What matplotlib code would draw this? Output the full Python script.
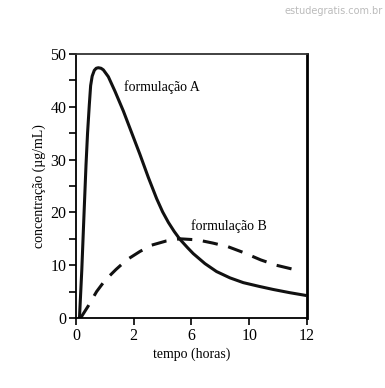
import matplotlib.pyplot as plt

# curves (x in axis units 0..12)
t_a = [0.18, 0.3, 0.42, 0.52, 0.6, 0.69, 0.76, 0.84, 0.95, 1.05, 1.16, 1.3, 1.42,
       1.68, 2.03, 2.46, 2.89, 3.32, 3.76, 4.19, 4.5, 4.8, 5.1, 5.4, 5.8, 6.09,
       6.7, 7.3, 8.0, 8.69, 9.5, 10.25, 11.1, 11.9]
conc_a = [0, 9, 20, 29, 35, 40.3, 44, 45.8, 46.9, 47.3, 47.4, 47.3, 47.0,
          45.7, 42.9, 39.2, 35.1, 31.0, 26.6, 22.6, 20.1, 18.1, 16.4, 14.9, 13.3, 12.2,
          10.3, 8.8, 7.6, 6.7, 6.0, 5.4, 4.8, 4.3]

t_b = [0.24, 0.64, 1.07, 1.5, 2.08, 2.63, 3.32, 3.93, 4.7, 5.4, 6.3, 7.1, 7.9,
       8.7, 9.6, 10.4, 11.2, 11.6]
conc_b = [0, 2.3, 5.0, 7.1, 9.2, 11.0, 12.6, 13.8, 14.6, 15.0, 14.8, 14.2, 13.5,
          12.4, 11.0, 10.0, 9.3, 9.0]

xtick_pos = [0, 3, 6, 9, 12]
xtick_lab = ['0', '2', '6', '10', '12']

plt.rcParams['font.family'] = ['Liberation Serif', 'DejaVu Serif']

fig = plt.figure(figsize=(3.85, 3.88), dpi=100)
ax = fig.add_axes([0.1974, 0.1804, 0.6, 0.6804])

ax.plot(t_a, conc_a, color='#111111', lw=2.2, solid_joinstyle='round')
ax.plot(t_b, conc_b, color='#111111', lw=2.2, dashes=(5, 3.5))

ax.text(2.49, 43.75, 'formulação A', fontsize=10, va='center', ha='left')
ax.text(6.0, 17.4, 'formulação B', fontsize=10, va='center', ha='left')

ax.set_xlim(0, 12)
ax.set_ylim(0, 50)
ax.set_xticks(xtick_pos)
ax.set_xticklabels(xtick_lab)
ax.set_yticks([0, 10, 20, 30, 40, 50])
ax.set_yticks([5, 15, 25, 35, 45], minor=True)
ax.tick_params(axis='both', which='both', direction='out', length=5, width=1.2,
               labelsize=11.5, pad=2)

for side in ['left', 'bottom', 'top']:
    ax.spines[side].set_linewidth(1.3)
ax.spines['right'].set_linewidth(2)
ax.spines['top'].set_color('#333333')

ax.set_xlabel('tempo (horas)', fontsize=10, labelpad=3)
ax.set_ylabel('concentração (µg/mL)', fontsize=10, labelpad=3)

fig.text(0.995, 0.985, 'estudegratis.com.br', fontsize=7, color='#bbbbbb',
         ha='right', va='top', family='DejaVu Sans')

fig.savefig('out.png', dpi=100)
